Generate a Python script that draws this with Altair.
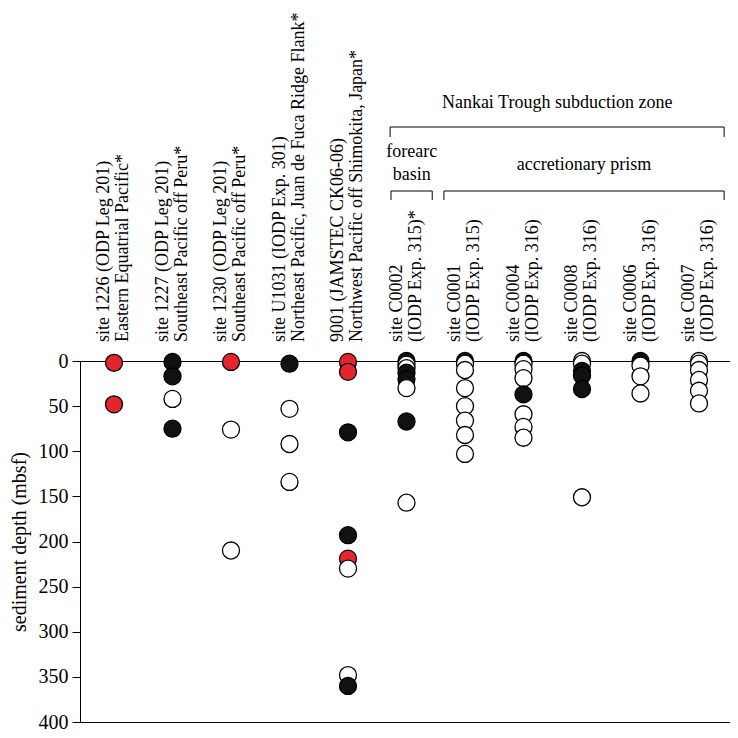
import altair as alt
import pandas as pd

# ---------------- data ----------------
sites = ["1226", "1227", "1230", "U1031", "9001",
         "C0002", "C0001", "C0004", "C0008", "C0006", "C0007"]

label_line1 = [
    "site 1226 (ODP Leg 201)",
    "site 1227 (ODP Leg 201)",
    "site 1230 (ODP Leg 201)",
    "site U1031 (IODP Exp. 301)",
    "9001 (JAMSTEC CK06-06)",
    "site C0002",
    "site C0001",
    "site C0004",
    "site C0008",
    "site C0006",
    "site C0007",
]
label_line2 = [
    "Eastern Equatrial Pacific*",
    "Southeast Pacific off Peru*",
    "Southeast Pacific off Peru*",
    "Northeast Pacific, Juan de Fuca Ridge Flank*",
    "Northwest Pacific off Shimokita, Japan*",
    "(IODP Exp. 315)*",
    "(IODP Exp. 315)",
    "(IODP Exp. 316)",
    "(IODP Exp. 316)",
    "(IODP Exp. 316)",
    "(IODP Exp. 316)",
]

depth_1226 = [2, 48]
kind_1226 = ["red", "red"]
depth_1227 = [1, 17, 42, 75]
kind_1227 = ["black", "black", "white", "black"]
depth_1230 = [1, 76, 210]
kind_1230 = ["red", "white", "white"]
depth_U1031 = [3, 53, 92, 134]
kind_U1031 = ["black", "white", "white", "white"]
depth_9001 = [1, 12, 79, 193, 219, 230, 348, 360]
kind_9001 = ["red", "red", "black", "black", "red", "white", "white", "black"]
depth_C0002 = [0, 4, 8, 13, 20, 30, 67, 157]
kind_C0002 = ["black", "white", "white", "black", "black", "white", "black", "white"]
depth_C0001 = [0, 3, 10, 30, 50, 66, 82, 103]
kind_C0001 = ["black", "white", "white", "white", "white", "white", "white", "white"]
depth_C0004 = [0, 3, 9, 19, 37, 59, 73, 85]
kind_C0004 = ["black", "white", "white", "white", "black", "white", "white", "white"]
depth_C0008 = [0, 3, 11, 16, 31, 151]
kind_C0008 = ["white", "white", "black", "black", "black", "white"]
depth_C0006 = [0, 5, 17, 36]
kind_C0006 = ["black", "white", "white", "white"]
depth_C0007 = [0, 3, 10, 21, 33, 47]
kind_C0007 = ["white", "white", "white", "white", "white", "white"]

group_names = ["Nankai Trough subduction zone", "forearc", "basin", "accretionary prism"]

# ---------------- tables ----------------
site_depths = [depth_1226, depth_1227, depth_1230, depth_U1031, depth_9001,
               depth_C0002, depth_C0001, depth_C0004, depth_C0008, depth_C0006, depth_C0007]
site_kinds = [kind_1226, kind_1227, kind_1230, kind_U1031, kind_9001,
              kind_C0002, kind_C0001, kind_C0004, kind_C0008, kind_C0006, kind_C0007]

rows = []
order = 0
for i, (ds, ks) in enumerate(zip(site_depths, site_kinds)):
    for d, k in zip(ds, ks):
        rows.append({"x": i, "site": sites[i], "depth": d, "kind": k, "order": order})
        order += 1
points_df = pd.DataFrame(rows)

labels_df = pd.DataFrame({"x": list(range(len(sites))), "l1": label_line1, "l2": label_line2})

FONT = "Liberation Serif"
FS = 18
LFS = 18
AFS = 20
RED = "#e3262b"

xscale = alt.Scale(domain=[-0.581, 10.53])
yscale = alt.Scale(domain=[0, 400], reverse=True, nice=False)

points = alt.Chart(points_df).mark_point(
    shape="circle", filled=True, size=290, stroke="black", strokeWidth=1.3, opacity=1
).encode(
    x=alt.X("x:Q", scale=xscale, axis=None),
    y=alt.Y("depth:Q", scale=yscale,
            axis=alt.Axis(values=list(range(0, 401, 50)), title="sediment depth (mbsf)",
                          grid=False, tickSize=8, labelPadding=4, titlePadding=9)),
    fill=alt.Fill("kind:N", scale=alt.Scale(domain=["red", "black", "white"],
                                             range=[RED, "#111111", "#ffffff"]), legend=None),
    order=alt.Order("order:Q"),
)

line1 = alt.Chart(labels_df).mark_text(angle=270, align="left", baseline="middle", font=FONT,
                                       fontSize=LFS, color="black", dy=-9.5).encode(
    x=alt.X("x:Q", scale=xscale), y=alt.value(-19), text="l1:N")
line2 = alt.Chart(labels_df).mark_text(angle=270, align="left", baseline="middle", font=FONT,
                                       fontSize=LFS, color="black", dy=9.5).encode(
    x=alt.X("x:Q", scale=xscale), y=alt.value(-19), text="l2:N")

# brackets (in column units)
br_df = pd.DataFrame({
    "x1": [4.72, 4.735, 5.64],
    "x2": [10.43, 5.44, 10.43],
    "level": ["top", "low", "low"],
})
top_h = alt.Chart(br_df[br_df.level == "top"]).mark_rule(color="black", strokeWidth=1).encode(
    x=alt.X("x1:Q", scale=xscale), x2="x2:Q", y=alt.value(-234))
low_h = alt.Chart(br_df[br_df.level == "low"]).mark_rule(color="black", strokeWidth=1).encode(
    x=alt.X("x1:Q", scale=xscale), x2="x2:Q", y=alt.value(-170))

ticks_df = pd.DataFrame({
    "x": [4.72, 10.43, 4.735, 5.44, 5.64, 10.43],
    "level": ["top", "top", "low", "low", "low", "low"],
})
top_t = alt.Chart(ticks_df[ticks_df.level == "top"]).mark_rule(color="black", strokeWidth=1).encode(
    x=alt.X("x:Q", scale=xscale), y=alt.value(-234), y2=alt.value(-224))
low_t = alt.Chart(ticks_df[ticks_df.level == "low"]).mark_rule(color="black", strokeWidth=1).encode(
    x=alt.X("x:Q", scale=xscale), y=alt.value(-170), y2=alt.value(-161))

ann_df = pd.DataFrame({"x": [7.575, 5.09, 5.09, 8.035], "text": group_names,
                       "yy": [-258, -209, -186, -196]})
ann = alt.Chart(ann_df).mark_text(align="center", baseline="middle", font=FONT,
                                  fontSize=FS, color="black").encode(
    x=alt.X("x:Q", scale=xscale), y=alt.Y("yy:Q", scale=None), text="text:N")

chart = alt.layer(points, line1, line2, top_h, low_h, top_t, low_t, ann).properties(
    width=650, height=361,
    autosize=alt.AutoSizeParams(type="none"),
    padding={"left": 72, "top": 353, "right": 0, "bottom": 14},
).configure_view(
    stroke="black", strokeWidth=1
).configure_axis(
    labelFont=FONT, labelFontSize=AFS, labelColor="black",
    titleFont=FONT, titleFontSize=AFS, titleFontWeight="normal", titleColor="black",
    domainColor="black", tickColor="black", domainWidth=1, tickWidth=1,
)

chart.save("out.html", embed_options={"renderer": "svg", "actions": False})
